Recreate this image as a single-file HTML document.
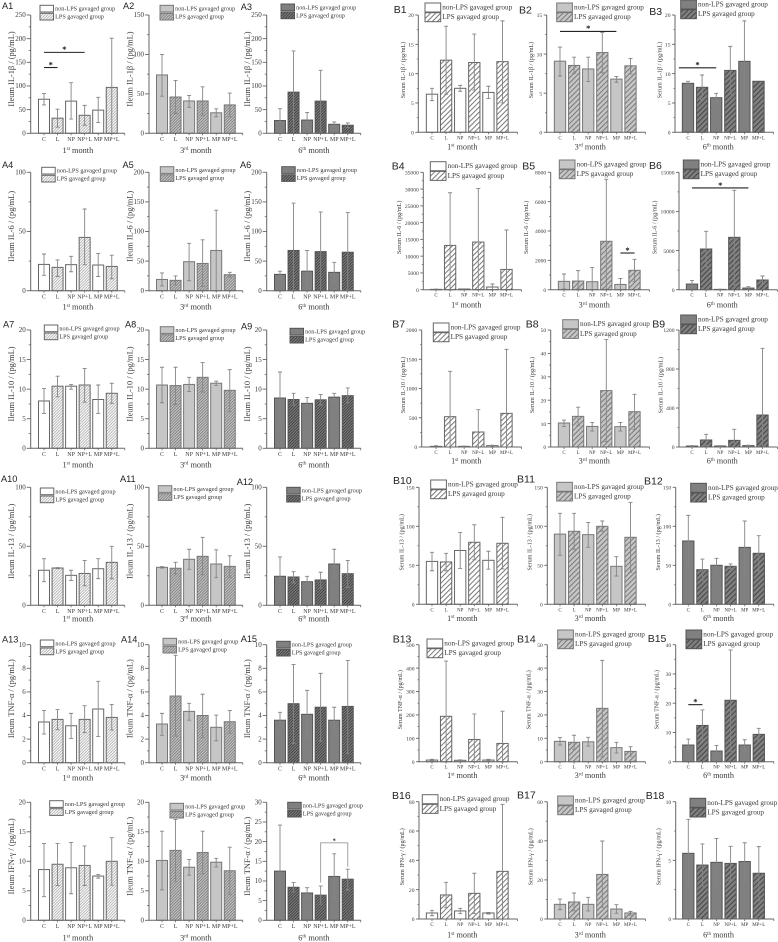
<!DOCTYPE html>
<html lang="en">
<head>
<meta charset="utf-8">
<title>Ileum and serum cytokine levels</title>
<style>
html,body{margin:0;padding:0;background:#fff;}
#figure{display:block;width:778px;height:942px;filter:blur(0.3px);}
text{font-family:"Liberation Serif","Noto Serif CJK SC",serif;fill:#3a3a3a;}
.plabel{font-family:"Liberation Sans","Noto Sans CJK SC",sans-serif;fill:#222;}
</style>
</head>
<body>
<svg id="figure" xmlns="http://www.w3.org/2000/svg" width="778" height="942" viewBox="0 0 778 942">
  <defs>
    <pattern id="fine0" width="2" height="2" patternUnits="userSpaceOnUse" patternTransform="rotate(45)"><rect width="2" height="2" fill="#fff"/><rect width="0.8" height="2" fill="#a8a8a8"/></pattern>
    <pattern id="fine1" width="2" height="2" patternUnits="userSpaceOnUse" patternTransform="rotate(45)"><rect width="2" height="2" fill="#c6c6c6"/><rect width="0.8" height="2" fill="#757575"/></pattern>
    <pattern id="fine2" width="2" height="2" patternUnits="userSpaceOnUse" patternTransform="rotate(45)"><rect width="2" height="2" fill="#808080"/><rect width="0.8" height="2" fill="#333"/></pattern>
    <pattern id="wide0" width="3.6" height="3.6" patternUnits="userSpaceOnUse" patternTransform="rotate(45)"><rect width="3.6" height="3.6" fill="#fff"/><rect width="1" height="3.6" fill="#777"/></pattern>
    <pattern id="wide1" width="3.6" height="3.6" patternUnits="userSpaceOnUse" patternTransform="rotate(45)"><rect width="3.6" height="3.6" fill="#c6c6c6"/><rect width="1" height="3.6" fill="#777"/></pattern>
    <pattern id="wide2" width="3.6" height="3.6" patternUnits="userSpaceOnUse" patternTransform="rotate(45)"><rect width="3.6" height="3.6" fill="#808080"/><rect width="1" height="3.6" fill="#444"/></pattern>
  </defs>
</svg>
<script>
const categories=['C','L','NP','NP+L','MP','MP+L'];
const legendLabels=['non-LPS gavaged group','LPS gavaged group'];
const monthNumbers=['1','3','6'];
const monthSuffixes=['st','rd','th'];

const a1Ticks=[0,50,100,150,200,250];
const a1Means=[72,32,68,38,49,97];
const a1Upper=[84,51,107,59,76,201];
const a1Lower=[60,13,30,17,23,0];
const a2Ticks=[0,50,100,150];
const a2Means=[74,46,41,41,26,36];
const a2Upper=[100,67,48,59,31,51];
const a2Lower=[47,25,33,23,21,21];
const a3Ticks=[0,50,100,150,200,250];
const a3Means=[27,87,28,68,19,17];
const a3Upper=[52,174,44,133,24,22];
const a3Lower=[2,0,12,3,14,12];

const a4Ticks=[0,50,100];
const a4Means=[22.2,19.7,22,45,21.7,20.5];
const a4Upper=[31,26,29,69,31.5,30];
const a4Lower=[13,12,16,22,12,10];
const a5Ticks=[0,50,100,150,200];
const a5Means=[19,17.5,49,46,68,27];
const a5Upper=[30,25,80,86,136,31];
const a5Lower=[8,10,17,7,0,23];
const a6Ticks=[0,50,100,150,200];
const a6Means=[27.6,68,33,66,31,65];
const a6Upper=[33,148,68,133,48,132];
const a6Lower=[21,0,0,0,13.5,0];

const a7Ticks=[0,5,10,15,20];
const a7Means=[8,10.5,10.5,10.7,8.25,9.3];
const a7Upper=[10.1,12.2,10.8,13.5,10.7,11];
const a7Lower=[5.9,8.7,10,7.8,5.9,7.6];
const a8Ticks=[0,5,10,15,20];
const a8Means=[10.7,10.6,10.8,12,11,9.8];
const a8Upper=[13.7,13.7,12,14.5,11.35,13.3];
const a8Lower=[7.7,7.4,9.6,9.5,10.6,6.2];
const a9Ticks=[0,5,10,15,20];
const a9Means=[8.5,8.25,7.6,8.2,8.65,8.9];
const a9Upper=[12.9,9.3,8.6,9.1,9.3,10.2];
const a9Lower=[4,7.3,6.6,7.3,8,7.7];

const a10Ticks=[0,50,100];
const a10Means=[29.7,31.6,25.4,27,31,36.4];
const a10Upper=[39.5,32,29.7,38,39.5,50];
const a10Lower=[20,31,21,16.5,22.6,22.5];
const a11Ticks=[0,50,100];
const a11Means=[32.2,31.4,39,41.5,35,33];
const a11Upper=[32.8,36.4,47.5,57.6,47,42];
const a11Lower=[31.6,26.5,30.5,26,23.4,23.7];
const a12Ticks=[0,50,100];
const a12Means=[24.6,24,20,21.5,35,26.8];
const a12Upper=[41,28.5,24.6,28,47.5,38];
const a12Lower=[8,19,15,14.7,22.6,15];

const a13Ticks=[0,2,4,6,8,10];
const a13Means=[3.45,3.67,3.13,3.67,4.55,3.84];
const a13Upper=[4.43,4.5,4.18,4.83,6.9,4.94];
const a13Lower=[2.43,2.8,2.06,2.54,2.23,2.77];
const a14Ticks=[0,2,4,6,8,10];
const a14Means=[3.28,5.65,4.35,4,3,3.47];
const a14Upper=[4.18,9.1,5.03,5.8,4.04,4.43];
const a14Lower=[2.32,2.26,3.6,2.12,1.86,2.5];
const a15Ticks=[0,2,4,6,8,10];
const a15Means=[3.6,5,4.1,4.7,3.6,4.77];
const a15Upper=[4.27,8.33,6.13,7.57,4.7,8.67];
const a15Lower=[2.88,1.64,2.1,1.84,2.5,0.8];

const a16Ticks=[0,5,10,15,20];
const a16Means=[8.6,9.5,8.9,9.3,7.5,10];
const a16Upper=[13,13,13.2,12.6,7.75,14];
const a16Lower=[4,5.9,4.5,5.9,7.15,5.95];
const a17Ticks=[0,5,10,15,20];
const a17Means=[10.15,11.85,9,11.5,9.85,8.4];
const a17Upper=[15.1,17.1,10.3,15.1,10.5,12.4];
const a17Lower=[5.15,6.6,7.65,7.9,9.05,4.4];
const a18Ticks=[0,5,10,15,20,25,30];
const a18Means=[12.5,8.4,6.95,6.4,11.15,10.45];
const a18Upper=[24.2,9.6,8.3,8.7,16.9,13];
const a18Lower=[0.8,7.2,5.7,4.1,5.4,7.7];

const b1Ticks=[0,5,10,15,20];
const b1Means=[6.5,12.3,7.5,11.9,6.8,12.05];
const b1Upper=[7.5,18.1,8,16.75,7.85,19];
const b1Lower=[5.4,6.5,7,7.2,5.75,5];
const b2Ticks=[0,5,10,15];
const b2Means=[9.1,8.55,8.1,10.2,6.8,8.5];
const b2Upper=[10.9,9.6,9.6,12.75,7.15,9.45];
const b2Lower=[7.2,7.55,6.5,7.6,6.4,7.45];
const b3Ticks=[0,5,10,15,20];
const b3Means=[8.35,7.67,5.9,10.55,12.1,8.7];
const b3Upper=[8.7,9.77,6.65,14.65,19,8.7];
const b3Lower=[8,5.6,5.2,6.5,5.2,8.7];

const b4Ticks=[0,5000,10000,15000,20000,25000,30000,35000];
const b4Means=[100,13200,200,14200,800,6050];
const b4Upper=[200,28900,250,30200,1700,17800];
const b4Lower=[0,0,100,0,0,0];
const b5Ticks=[0,2000,4000,6000,8000];
const b5Means=[570,590,545,3300,360,1320];
const b5Upper=[1070,1300,1520,7520,770,2070];
const b5Lower=[50,50,0,0,0,570];
const b6Ticks=[0,5000,10000,15000];
const b6Means=[720,5200,40,6690,210,1240];
const b6Upper=[1190,7460,60,12700,380,1750];
const b6Lower=[170,2940,20,640,40,720];

const b7Ticks=[0,500,1000,1500,2000];
const b7Means=[11,518,11,256,23,575];
const b7Upper=[23,1293,15,638,30,1670];
const b7Lower=[0,0,5,0,15,0];
const b8Ticks=[0,10,20,30,40,50];
const b8Means=[10.25,13.1,8.8,24.1,8.7,15.1];
const b8Upper=[11.5,17,10.5,45.9,10.5,22.5];
const b8Lower=[8.8,9.1,6.8,2.3,6.8,7.4];
const b9Ticks=[0,400,800,1200];
const b9Means=[10,72,10,68,14,328];
const b9Upper=[14,130,14,181,18,1012];
const b9Lower=[6,14,6,0,10,0];

const b10Ticks=[0,50,100,150];
const b10Means=[55,54.3,69,79.5,56.4,78.2];
const b10Upper=[66.7,65.4,92,102,68,111.5];
const b10Lower=[43,43,46,57,45,45.3];
const b11Ticks=[0,50,100,150];
const b11Means=[90,93.6,89.3,100,48.7,85.9];
const b11Upper=[116.7,116.7,105,106.8,61,130.8];
const b11Lower=[62.8,70.5,73,93.6,36.3,41];
const b12Ticks=[0,50,100,150];
const b12Means=[81.2,44.4,50,48.7,73,65.4];
const b12Upper=[114,58,59,51.7,106.8,88];
const b12Lower=[48.3,30.8,41.5,45.7,38.9,42.7];

const b13Ticks=[0,100,200,300,400,500];
const b13Means=[7,194,6,95,7,78];
const b13Upper=[10,430,8,204,10,216];
const b13Lower=[4,0,4,0,4,0];
const b14Ticks=[0,10,20,30,40,50];
const b14Means=[8.7,8.3,8.5,22.8,6,4.4];
const b14Upper=[10.3,11.3,10.4,43.3,8.3,6.4];
const b14Lower=[7.1,5.3,6.7,2.1,3.7,2.4];
const b15Ticks=[0,10,20,30,40];
const b15Means=[5.7,12.4,3.65,21,5.7,9.35];
const b15Upper=[7.75,17.7,5.5,38.2,7.5,11.4];
const b15Lower=[3.65,7.1,1.9,3.65,3.9,7.4];

const b16Ticks=[0,20,40,60,80];
const b16Means=[4.1,16.4,5.5,17.5,4.1,32.5];
const b16Upper=[5.9,25,7.3,31.2,4.5,78.2];
const b16Lower=[2.3,7.7,3.6,3.6,3.4,0];
const b17Ticks=[0,20,40,60];
const b17Means=[7.5,8.7,7.5,22.8,5.1,3.1];
const b17Upper=[10.2,13.3,11.1,39.9,7.3,3.9];
const b17Lower=[4.8,4.1,4.1,6,2.9,2];
const b18Ticks=[0,5,10];
const b18Means=[5.6,4.6,4.83,4.74,4.9,3.9];
const b18Upper=[8.5,6.4,6.87,6.2,6.5,6.17];
const b18Lower=[2.7,2.8,2.8,3.26,3.2,1.56];

const panels=[
{id:'A1',means:a1Means,upper:a1Upper,lower:a1Lower,ticks:a1Ticks,title:'Ileum IL-1β / (pg/mL)'},
{id:'A2',means:a2Means,upper:a2Upper,lower:a2Lower,ticks:a2Ticks,title:'Ileum IL-1β / (pg/mL)'},
{id:'A3',means:a3Means,upper:a3Upper,lower:a3Lower,ticks:a3Ticks,title:'Ileum IL-1β / (pg/mL)'},
{id:'A4',means:a4Means,upper:a4Upper,lower:a4Lower,ticks:a4Ticks,title:'Ileum IL-6 / (pg/mL)'},
{id:'A5',means:a5Means,upper:a5Upper,lower:a5Lower,ticks:a5Ticks,title:'Ileum IL-6 / (pg/mL)'},
{id:'A6',means:a6Means,upper:a6Upper,lower:a6Lower,ticks:a6Ticks,title:'Ileum IL-6 / (pg/mL)'},
{id:'A7',means:a7Means,upper:a7Upper,lower:a7Lower,ticks:a7Ticks,title:'Ileum IL-10 / (pg/mL)'},
{id:'A8',means:a8Means,upper:a8Upper,lower:a8Lower,ticks:a8Ticks,title:'Ileum IL-10 / (pg/mL)'},
{id:'A9',means:a9Means,upper:a9Upper,lower:a9Lower,ticks:a9Ticks,title:'Ileum IL-10 / (pg/mL)'},
{id:'A10',means:a10Means,upper:a10Upper,lower:a10Lower,ticks:a10Ticks,title:'Ileum IL-13 / (pg/mL)'},
{id:'A11',means:a11Means,upper:a11Upper,lower:a11Lower,ticks:a11Ticks,title:'Ileum IL-13 / (pg/mL)'},
{id:'A12',means:a12Means,upper:a12Upper,lower:a12Lower,ticks:a12Ticks,title:'Ileum IL-13 / (pg/mL)'},
{id:'A13',means:a13Means,upper:a13Upper,lower:a13Lower,ticks:a13Ticks,title:'Ileum TNF-α / (pg/mL)'},
{id:'A14',means:a14Means,upper:a14Upper,lower:a14Lower,ticks:a14Ticks,title:'Ileum TNF-α / (pg/mL)'},
{id:'A15',means:a15Means,upper:a15Upper,lower:a15Lower,ticks:a15Ticks,title:'Ileum TNF-α / (pg/mL)'},
{id:'A16',means:a16Means,upper:a16Upper,lower:a16Lower,ticks:a16Ticks,title:'Ileum IFN-γ / (pg/mL)'},
{id:'A17',means:a17Means,upper:a17Upper,lower:a17Lower,ticks:a17Ticks,title:'Ileum TNF-α / (pg/mL)'},
{id:'A18',means:a18Means,upper:a18Upper,lower:a18Lower,ticks:a18Ticks,title:'Ileum TNF-α / (pg/mL)'},
{id:'B1',means:b1Means,upper:b1Upper,lower:b1Lower,ticks:b1Ticks,title:'Serum IL-1β / (pg/mL)'},
{id:'B2',means:b2Means,upper:b2Upper,lower:b2Lower,ticks:b2Ticks,title:'Serum IL-1β / (pg/mL)'},
{id:'B3',means:b3Means,upper:b3Upper,lower:b3Lower,ticks:b3Ticks,title:'Serum IL-1β / (pg/mL)'},
{id:'B4',means:b4Means,upper:b4Upper,lower:b4Lower,ticks:b4Ticks,title:'Serum IL-6 / (pg/mL)'},
{id:'B5',means:b5Means,upper:b5Upper,lower:b5Lower,ticks:b5Ticks,title:'Serum IL-6 / (pg/mL)'},
{id:'B6',means:b6Means,upper:b6Upper,lower:b6Lower,ticks:b6Ticks,title:'Serum IL-6 / (pg/mL)'},
{id:'B7',means:b7Means,upper:b7Upper,lower:b7Lower,ticks:b7Ticks,title:'Serum IL-10 / (pg/mL)'},
{id:'B8',means:b8Means,upper:b8Upper,lower:b8Lower,ticks:b8Ticks,title:'Serum IL-10 / (pg/mL)'},
{id:'B9',means:b9Means,upper:b9Upper,lower:b9Lower,ticks:b9Ticks,title:'Serum IL-10 / (pg/mL)'},
{id:'B10',means:b10Means,upper:b10Upper,lower:b10Lower,ticks:b10Ticks,title:'Serum IL-13 / (pg/mL)'},
{id:'B11',means:b11Means,upper:b11Upper,lower:b11Lower,ticks:b11Ticks,title:'Serum IL-13 / (pg/mL)'},
{id:'B12',means:b12Means,upper:b12Upper,lower:b12Lower,ticks:b12Ticks,title:'Serum IL-13 / (pg/mL)'},
{id:'B13',means:b13Means,upper:b13Upper,lower:b13Lower,ticks:b13Ticks,title:'Serum TNF-α / (pg/mL)'},
{id:'B14',means:b14Means,upper:b14Upper,lower:b14Lower,ticks:b14Ticks,title:'Serum TNF-α / (pg/mL)'},
{id:'B15',means:b15Means,upper:b15Upper,lower:b15Lower,ticks:b15Ticks,title:'Serum TNF-α / (pg/mL)'},
{id:'B16',means:b16Means,upper:b16Upper,lower:b16Lower,ticks:b16Ticks,title:'Serum IFN-γ / (pg/mL)'},
{id:'B17',means:b17Means,upper:b17Upper,lower:b17Lower,ticks:b17Ticks,title:'Serum IFN-γ / (pg/mL)'},
{id:'B18',means:b18Means,upper:b18Upper,lower:b18Lower,ticks:b18Ticks,title:'Serum IFN-γ / (pg/mL)'}
];

/* significance markers: category span and the axis value they sit at */
const significance=[
{panel:'A1',from:0,to:3,value:171,bracket:false},
{panel:'A1',from:0,to:1,value:139,bracket:false},
{panel:'B2',from:0,to:4,value:12.9,bracket:false},
{panel:'B3',from:-0.65,to:2,value:11,bracket:false},
{panel:'B5',from:4,to:5,value:2500,bracket:false},
{panel:'B6',from:0,to:4,value:13000,bracket:false},
{panel:'B15',from:0,to:1,value:19.5,bracket:false},
{panel:'A18',from:3,to:5,value:19.7,bracket:true,leftEnd:9.6,rightEnd:13.6}
];

/* ---------- layout (frames only, not data) ---------- */
const layoutA={
  cols:[{ax:30.7,c0:44},{ax:149,c0:162},{ax:266.7,c0:280}],
  rows:[{top:15,bot:133.3,month:19.5},{top:172.3,bot:290.7,month:19},{top:330,bot:448.3,month:19},{top:487.3,bot:605.3,month:16},{top:644.7,bot:762.7,month:18},{top:802.3,bot:920.3,month:20}]
};
const layoutB={
  axes:[[[418.3,432],[546.7,560],[675,688]],[[423.3,436],[550.7,564],[679,692]],[[421.7,436],[550.7,564],[679,692]],[[419,432],[547.3,560],[675.7,688.3]],[[419,432],[547.3,560],[675.7,688.3]],[[419,432],[547.3,560],[675.7,688.3]]],
  rows:[{top:15,bot:132.3,month:17,title:-13.5},{top:172.3,bot:289.7,month:18,title:-22.5},{top:330,bot:447,month:16.5,title:-16.5},{top:487.3,bot:604.3,month:16.5,title:-15.7},{top:644.7,bot:761.7,month:16.5,title:-17},{top:801.7,bot:919,month:18.5,title:-15}]
};
const legendPos={A1:[40,5.3],A2:[160,5.3],A3:[281,4],A4:[41.7,167.3],A5:[160.3,166.7],A6:[281.7,166.7],A7:[44.3,325],A8:[160.3,326.7],A9:[290,328.3],A10:[40.3,488],A11:[158.3,485.7],A12:[286.7,487.3],A13:[40.3,640],A14:[163,638.3],A15:[276.7,641.3],A16:[49.7,800.7],A17:[170,803.3],A18:[287.7,802.3],
B1:[425,3],B2:[556.7,3],B3:[680.7,0],B4:[430.3,161.7],B5:[559.3,160],B6:[683.3,160],B7:[433.3,323],B8:[562.7,319.7],B9:[680.7,315],B10:[430.7,480],B11:[556.7,482.3],B12:[690.7,483.3],B13:[427,639],B14:[557.7,630],B15:[686,630],B16:[422.3,794.7],B17:[557.7,796],B18:[690,798.3]};
const labelPos={A1:[2,9],A2:[123,9],A3:[240.7,10],A4:[2,168],A5:[122.5,168],A6:[240,168],A7:[3,327.7],A8:[125,327.7],A9:[241,329.7],A10:[1,482],A11:[120,482],A12:[236.7,485],A13:[2,642.7],A14:[121,642.7],A15:[240.7,642],
B1:[393.7,13],B2:[519,13.3],B3:[649.3,15],B4:[391.7,169.3],B5:[522.3,169.3],B6:[649,169],B7:[392.3,327.3],B8:[525.7,327.3],B9:[652.3,327.7],B10:[393,484],B11:[517,482.3],B12:[644,484.3],B13:[392.7,642.7],B14:[517,642.7],B15:[647.7,642],B16:[392,799],B17:[517,798.3],B18:[645.7,799]};

const baseFill=['#ffffff','#c6c6c6','#808080'];
const barStroke=['#666','#777','#555'];
const svgNS='http://www.w3.org/2000/svg';
const root=document.getElementById('figure');

function mk(parent,tag,attrs,txt){
  const el=document.createElementNS(svgNS,tag);
  for(const k in attrs){el.setAttribute(k,attrs[k]);}
  if(txt!==undefined){el.textContent=txt;}
  parent.appendChild(el);
  return el;
}

function frameFor(p,index){
  const isA=p.id[0]==='A';
  const local=isA?index:index-18;
  const r=Math.floor(local/3);
  const c=local%3;
  if(isA){
    const row=layoutA.rows[r];
    const col=layoutA.cols[c];
    return {isA:isA,col:c,ax:col.ax,c0:col.c0,step:13.55,barW:11,x1:col.c0+5*13.55+13,top:row.top,bot:row.bot,month:row.month,titleDx:-16.5,titleDy:54,monthDx:0};
  }
  const row=layoutB.rows[r];
  const a=layoutB.axes[r][c];
  return {isA:isA,col:c,ax:a[0],c0:a[1],step:14.1,barW:11.3,x1:a[1]+5*14.1+15,top:row.top,bot:row.bot,month:row.month,titleDx:row.title,titleDy:55,monthDx:-5};
}

panels.forEach(function(p,index){
  const f=frameFor(p,index);
  const yMax=p.ticks[p.ticks.length-1];
  const yScale=function(v){return f.bot-(v/yMax)*(f.bot-f.top);};
  const xScale=function(i){return f.c0+i*f.step;};
  const hatchId=(f.isA?'fine':'wide')+f.col;

  const g=mk(root,'g',{});
  
  

  /* bars */
  p.means.forEach(function(v,i){
    const lps=i%2===1;
    const y=yScale(v);
    const bar=mk(g,'rect',{x:(xScale(i)-f.barW/2).toFixed(2),y:y.toFixed(2),width:f.barW,height:Math.max(0,f.bot-y).toFixed(2),fill:lps?'url(#'+hatchId+')':baseFill[f.col],stroke:barStroke[f.col],'stroke-width':1});
    
    
  });

  /* error bars */
  p.means.forEach(function(v,i){
    if(p.upper[i]===p.lower[i]){return;}
    const cx=xScale(i);
    const yu=yScale(p.upper[i]);
    const yl=yScale(p.lower[i]);
    const d='M'+cx.toFixed(2)+' '+yu.toFixed(2)+'V'+yl.toFixed(2)+'M'+(cx-2).toFixed(2)+' '+yu.toFixed(2)+'h4M'+(cx-2).toFixed(2)+' '+yl.toFixed(2)+'h4';
    const eb=mk(g,'path',{d:d,fill:'none',stroke:'#858585','stroke-width':0.9});
    
    
  });

  /* axes */
  const yAxis=mk(g,'line',{x1:f.ax,y1:f.top,x2:f.ax,y2:f.bot+0.5,stroke:'#666','stroke-width':1});
  
  
  const xAxis=mk(g,'line',{x1:f.ax,y1:f.bot,x2:f.x1,y2:f.bot,stroke:'#666','stroke-width':1});
  
  
  mk(g,'line',{x1:f.x1,y1:f.bot,x2:f.x1,y2:f.bot+2,stroke:'#666','stroke-width':0.8});

  const majorLen=f.isA?4:3;
  const tickFont=f.isA?7:5.6;
  p.ticks.forEach(function(t,i){
    const y=yScale(t);
    mk(g,'line',{x1:f.ax-majorLen,y1:y.toFixed(2),x2:f.ax,y2:y.toFixed(2),stroke:'#666','stroke-width':0.9});
    const lab=mk(g,'text',{x:f.ax-(f.isA?5:4.5),y:(y+2.2).toFixed(2),'text-anchor':'end','font-size':tickFont},String(t));
    
    
    if(i<p.ticks.length-1){
      const ym=yScale((t+p.ticks[i+1])/2);
      mk(g,'line',{x1:f.ax-majorLen/2,y1:ym.toFixed(2),x2:f.ax,y2:ym.toFixed(2),stroke:'#666','stroke-width':0.8});
    }
  });

  categories.forEach(function(c,i){
    const cx=xScale(i);
    mk(g,'line',{x1:cx,y1:f.bot,x2:cx,y2:f.bot+2,stroke:'#666','stroke-width':0.8});
    const lab=mk(g,'text',{x:cx.toFixed(2),y:(f.bot+(f.isA?7.8:7)).toFixed(2),'text-anchor':'middle','font-size':f.isA?6:5},c);
    
    
  });

  /* y title */
  const tx=f.ax+f.titleDx;
  const ty=f.top+f.titleDy;
  const yTitle=mk(g,'text',{x:tx.toFixed(2),y:ty.toFixed(2),'text-anchor':'middle','font-size':f.isA?8.4:6.1,transform:'rotate(-90 '+tx.toFixed(2)+' '+ty.toFixed(2)+')'},p.title);
  
  

  /* month label */
  const mid=(xScale(0)+xScale(5))/2+f.monthDx;
  const mFont=f.isA?8.3:8.2;
  const month=mk(g,'text',{x:mid.toFixed(2),y:(f.bot+f.month).toFixed(2),'text-anchor':'middle','font-size':mFont});
  
  
  mk(month,'tspan',{},monthNumbers[f.col]);
  mk(month,'tspan',{dy:-2.6,'font-size':mFont*0.6},monthSuffixes[f.col]);
  mk(month,'tspan',{dy:2.6},' month');

  /* legend */
  const lp=legendPos[p.id];
  const sw=f.isA?13.5:15.7;
  const sh=f.isA?6.7:9;
  const gap=f.isA?8:9.7;
  const lg=mk(g,'g',{});
  
  
  legendLabels.forEach(function(txt,i){
    const y=lp[1]+i*gap;
    const s=mk(lg,'rect',{x:lp[0],y:y,width:sw,height:sh,fill:i===1?'url(#'+hatchId+')':baseFill[f.col],stroke:barStroke[f.col],'stroke-width':1});
    
    
    const t=mk(lg,'text',{x:lp[0]+sw+1.6,y:(y+sh/2+2).toFixed(2),'font-size':f.isA?6.2:7.2},txt);
    
    
  });

  /* panel letter */
  const lbl=labelPos[p.id];
  if(lbl){
    const pl=mk(g,'text',{x:lbl[0],y:lbl[1],class:'plabel','font-size':f.isA?9.2:10.5},p.id);
    
    
  }

  /* significance */
  significance.filter(function(s){return s.panel===p.id;}).forEach(function(s){
    const xa=xScale(s.from);
    const xb=xScale(s.to);
    const y=yScale(s.value);
    if(s.bracket){
      const br=mk(g,'path',{d:'M'+xa.toFixed(2)+' '+yScale(s.leftEnd).toFixed(2)+'V'+y.toFixed(2)+'H'+xb.toFixed(2)+'V'+yScale(s.rightEnd).toFixed(2),fill:'none',stroke:'#999','stroke-width':0.9});
      
      
    }else{
      const ln=mk(g,'line',{x1:xa.toFixed(2),y1:y.toFixed(2),x2:xb.toFixed(2),y2:y.toFixed(2),stroke:'#222','stroke-width':1.1});
      
      
    }
    const st=mk(g,'text',{x:((xa+xb)/2).toFixed(2),y:(y-(s.bracket?0.5:0.2)).toFixed(2),'text-anchor':'middle','font-size':s.bracket?6:8.5,'font-weight':'bold'},'*');
    st.style.fill='#111';
    
    
  });
});
</script>
</body>
</html>
